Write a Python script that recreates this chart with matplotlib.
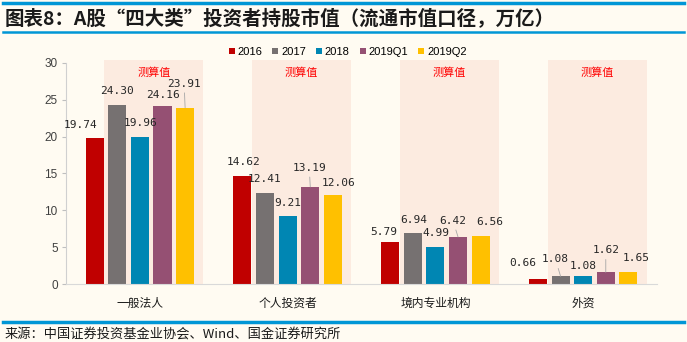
import matplotlib
matplotlib.use("Agg")
import matplotlib.pyplot as plt
from matplotlib.patches import Rectangle
from matplotlib.lines import Line2D
import numpy as np

plt.rcParams['font.family'] = ['Noto Sans CJK SC', 'DejaVu Sans']

categories = ['一般法人', '个人投资者', '境内专业机构', '外资']
series = ['2016', '2017', '2018', '2019Q1', '2019Q2']
v2016 = [19.74, 14.62, 5.79, 0.66]
v2017 = [24.30, 12.41, 6.94, 1.08]
v2018 = [19.96, 9.21, 4.99, 1.08]
v2019q1 = [24.16, 13.19, 6.42, 1.62]
v2019q2 = [23.91, 12.06, 6.56, 1.65]
values = [v2016, v2017, v2018, v2019q1, v2019q2]
colors = ['#C00000', '#767171', '#0086B3', '#955073', '#FFC000']

# label offsets in pixels (dx, dy) per series, per category
label_off = [
    [(-14, 13), (1, 14), (-6, 10), (-15, 16)],
    [(0, 14), (0, 14), (1, 13), (-5, 17)],
    [(1, 14), (0, 13), (1, 14), (0, 10)],
    [(0, 11), (-1, 19), (-5, 16), (0, 22)],
    [(-1, 24), (6, 12), (9, 14), (8, 14)],
]
leaders = {(4, 0), (3, 1), (3, 2), (1, 3), (3, 3)}

bg = '#FFFBF2'
fig = plt.figure(figsize=(6.87, 3.42), dpi=100, facecolor=bg)
ax = fig.add_axes([0.0961, 0.1687, 0.8603, 0.648])
ax.set_facecolor(bg)

x = np.arange(len(categories))
step = 0.153
width = 0.122

# shaded "测算值" regions
for xi in x:
    ax.add_patch(Rectangle((xi - 0.24, 0), 0.67, 30.35, facecolor='#FCEBE0',
                           edgecolor='none', zorder=0, clip_on=False))
    ax.text(xi + 0.095, 28.7, '测算值', color='#FF0000', fontsize=8,
            ha='center', va='center', zorder=1)

for i, (vals, c) in enumerate(zip(values, colors)):
    pos = x + (i - 2) * step
    ax.bar(pos, vals, width, color=c, label=series[i], zorder=2)
    for j, v in enumerate(vals):
        dx, dy = label_off[i][j]
        kw = {}
        if (i, j) in leaders:
            kw['arrowprops'] = dict(arrowstyle='-', color='#A6A6A6', lw=0.6,
                                    shrinkA=1, shrinkB=0)
        ax.annotate(f'{v:.2f}', xy=(pos[j], v), xytext=(dx, dy),
                    textcoords='offset pixels', ha='center', va='center',
                    fontsize=8, family='DejaVu Sans Mono', color='#262626',
                    zorder=3, **kw)

ax.set_xlim(-0.5, 3.5)
ax.set_ylim(0, 30)
ax.set_yticks(range(0, 31, 5))
ax.set_xticks(x)
ax.set_xticklabels(categories, fontsize=8.5, color='#1a1a1a')
ax.tick_params(axis='x', length=0, pad=9)
ax.tick_params(axis='y', length=3, color='#BFBFBF', labelsize=8.5,
               labelcolor='#404040', pad=3)
for lab in ax.get_yticklabels():
    lab.set_family('Liberation Sans')
for s in ['top', 'right']:
    ax.spines[s].set_visible(False)
ax.spines['left'].set_color('#D0D0D0')
ax.spines['bottom'].set_color('#D9D9D9')

fig.legend(loc='center', bbox_to_anchor=(0.506, 0.848), ncol=5, frameon=False,
           handlelength=0.55, handleheight=0.55, handletextpad=0.25,
           columnspacing=0.9, prop={'family': 'Liberation Sans', 'size': 8})

# header / footer decorations
for yy, lw in [(0.990, 2.5), (0.906, 1.8), (0.058, 2.5)]:
    fig.add_artist(Line2D([0.004, 0.996], [yy, yy], color='#0096D6', lw=lw,
                          transform=fig.transFigure))

fig.text(0.006, 0.948, '图表8：A股“四大类”投资者持股市值（流通市值口径，万亿）',
         fontsize=14, fontweight='bold', style='italic', color='#1a1a1a',
         ha='left', va='center')
fig.text(0.006, 0.022, '来源：中国证券投资基金业协会、Wind、国金证券研究所',
         fontsize=9.5, color='#1a1a1a', ha='left', va='center')

fig.savefig('out.png', dpi=100, facecolor=bg)
